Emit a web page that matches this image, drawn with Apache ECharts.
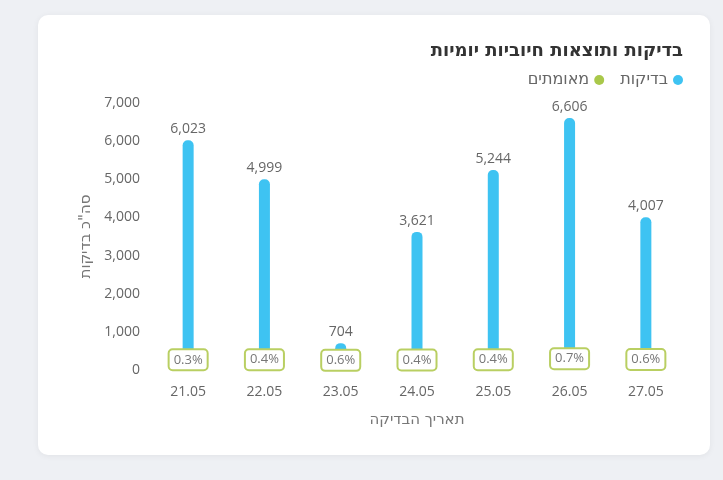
<!DOCTYPE html>
<html><head><meta charset="utf-8">
<script src="https://cdn.jsdelivr.net/npm/echarts@6/dist/echarts.min.js"></script>
<style>
html,body{margin:0;padding:0;background:#eef0f4;width:723px;height:480px;overflow:hidden;}
#card{position:absolute;left:38px;top:15px;width:672px;height:440px;background:#fff;border-radius:10px;box-shadow:0 1px 6px rgba(0,0,0,0.06);}
#chart{position:absolute;left:0;top:0;width:723px;height:480px;}
</style></head>
<body>
<div id="card"></div>
<div id="chart"></div>
<script>
const categories = ['21.05','22.05','23.05','24.05','25.05','26.05','27.05'];
const tests = [6023, 4999, 704, 3621, 5244, 6606, 4007];
const confirmed = [18, 20, 4, 14, 21, 46, 24];
const yTicks = [0, 1000, 2000, 3000, 4000, 5000, 6000, 7000];
const titleText = 'בדיקות ותוצאות חיוביות יומיות';
const seriesNames = ['בדיקות', 'מאומתים'];
const xName = 'תאריך הבדיקה';
const yName = 'סה"כ בדיקות';

const FONT = '"Open Sans", "Liberation Sans", "DejaVu Sans", sans-serif';
const HFONT = '"DejaVu Sans", "Liberation Sans", sans-serif';
const chart = echarts.init(document.getElementById('chart'), null, {renderer:'canvas'});
const fmt = v => v.toLocaleString('en-US');
chart.setOption({
  backgroundColor: 'transparent',
  textStyle: {fontFamily: FONT},
  title: {
    text: titleText, right: 35, top: 37,
    textStyle: {fontFamily: HFONT, fontSize: 18, fontWeight: 'bold', color: '#333'}
  },
  legend: {
    data: [seriesNames[1], seriesNames[0]],
    right: 35, top: 67, align: 'right', icon: 'circle',
    itemWidth: 10, itemHeight: 10, itemGap: 16,
    textStyle: {fontFamily: HFONT, fontSize: 16, color: '#666'}
  },
  grid: {left: 150, right: 39, top: 103, bottom: 110},
  xAxis: {
    type: 'category', data: categories,
    name: xName, nameLocation: 'middle', nameGap: 43,
    nameTextStyle: {fontFamily: HFONT, fontSize: 15, color: '#777'},
    axisLine: {show: false}, axisTick: {show: false},
    axisLabel: {color: '#666', fontSize: 14, margin: 15, fontFamily: FONT}
  },
  yAxis: {
    type: 'value', min: yTicks[0], max: yTicks[yTicks.length-1], interval: 1000,
    name: yName, nameLocation: 'middle', nameGap: 50, nameRotate: 90,
    nameTextStyle: {fontFamily: HFONT, fontSize: 15, color: '#777'},
    axisLine: {show: false}, axisTick: {show: false}, splitLine: {show: false},
    axisLabel: {color: '#666', fontSize: 14, margin: 10, fontFamily: FONT, formatter: v => fmt(v)}
  },
  series: [
    {
      name: seriesNames[0], type: 'bar', data: tests, barWidth: 11, barGap: '-100%',
      itemStyle: {color: '#3ec3f2', borderRadius: [5,5,0,0]},
      label: {show: true, position: 'top', distance: 4, color: '#666', fontSize: 14, fontFamily: FONT,
        formatter: p => fmt(p.value)}
    },
    {
      name: seriesNames[1], type: 'bar', data: confirmed, barWidth: 11,
      itemStyle: {color: '#a9c84a'},
      label: {show: true, position: 'top', distance: 0, color: '#777', fontSize: 13, fontFamily: FONT,
        backgroundColor: '#fff', borderColor: '#b9cf62', borderWidth: 2, borderRadius: 3,
        padding: [3, 4, 3, 4],
        formatter: p => (Math.round(confirmed[p.dataIndex] / tests[p.dataIndex] * 1000) / 10).toFixed(1) + '%'}
    }
  ]
});
</script>
</body></html>
